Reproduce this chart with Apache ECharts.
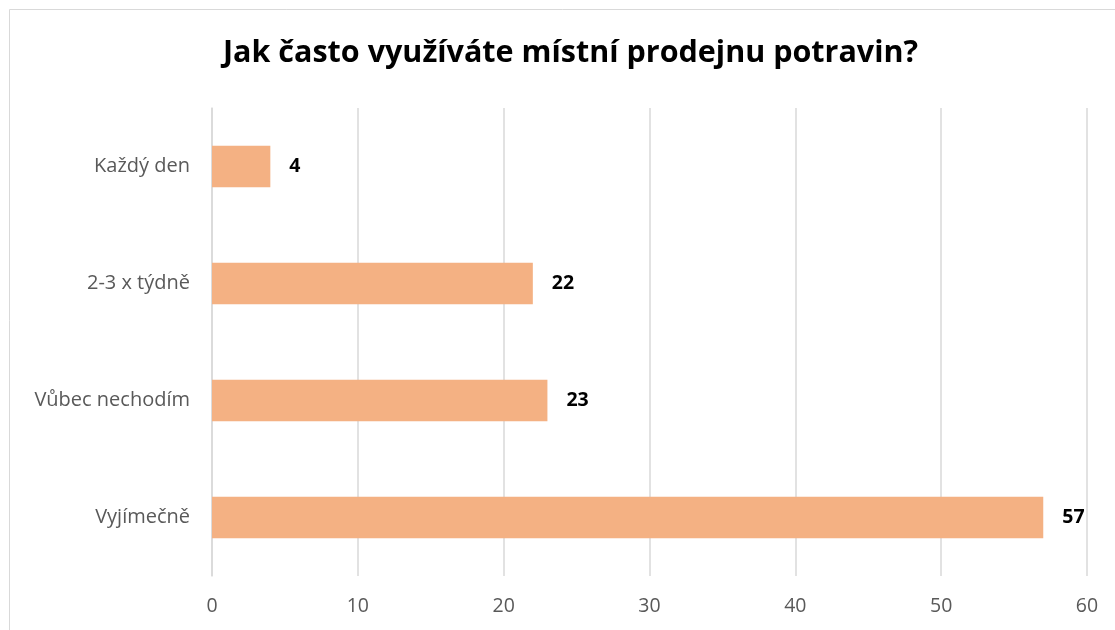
<!DOCTYPE html>
<html><head><meta charset="utf-8">
<script src="https://cdn.jsdelivr.net/npm/echarts@6/dist/echarts.min.js"></script>
<style>html,body{margin:0;padding:0;background:#fff}#c{width:1115px;height:630px}</style>
</head><body><div id="c"></div>
<script>
const categories = ['Vyjímečně', 'Vůbec nechodím', '2-3 x týdně', 'Každý den'];
const values = [57, 23, 22, 4];
const xTicks = [0, 10, 20, 30, 40, 50, 60];
const chart = echarts.init(document.getElementById('c'));
chart.setOption({
  animation: false,
  backgroundColor: '#fff',
  graphic: [{type:'rect', shape:{x:9.5,y:9.5,width:1200,height:700}, style:{fill:'none',stroke:'#d9d9d9',lineWidth:1}, silent:true}],
  title: {text:'Jak často využíváte místní prodejnu potravin?', left:218, top:33,
    textStyle:{fontFamily:'Open Sans', fontWeight:'bold', fontSize:30.5, color:'#000'}},
  grid: {left:212, right:28, top:108, bottom:54, containLabel:false},
  xAxis: {type:'value', min:xTicks[0], max:xTicks[xTicks.length-1], interval:10,
    axisLine:{show:false}, axisTick:{show:false},
    splitLine:{lineStyle:{color:'#d9d9d9', width:1.5}},
    axisLabel:{color:'#595959', fontFamily:'Open Sans', fontSize:19.5, margin:20}},
  yAxis: {type:'category', data:categories,
    axisLine:{show:true, lineStyle:{color:'#d9d9d9', width:1.5}}, axisTick:{show:false},
    axisLabel:{color:'#595959', fontFamily:'Open Sans', fontSize:20, margin:22}},
  series: [{type:'bar', data:values, barWidth:'35.6%', itemStyle:{color:'#F4B183'},
    label:{show:true, position:'right', distance:19, color:'#000', fontFamily:'Open Sans', fontWeight:'bold', fontSize:19.5}}]
});
</script></body></html>
